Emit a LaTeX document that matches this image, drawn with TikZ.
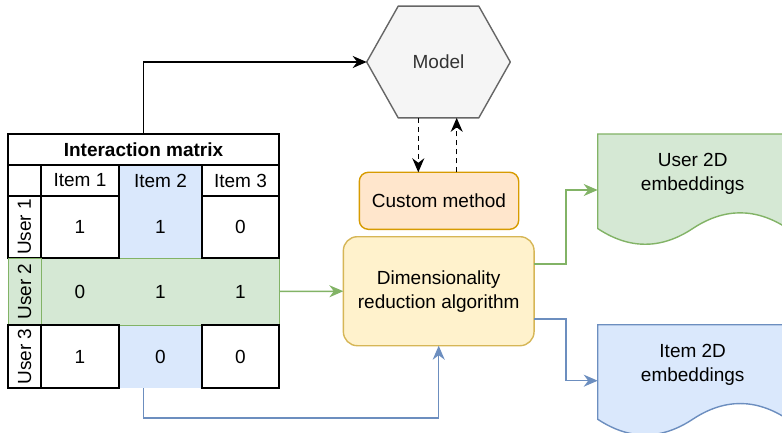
\documentclass[tikz,border=0pt]{standalone}
\usepackage{fontspec}
\setmainfont{Liberation Sans}
\usetikzlibrary{arrows.meta,backgrounds}
\definecolor{bluefill}{HTML}{DAE8FC}
\definecolor{blueline}{HTML}{6C8EBF}
\definecolor{greenfill}{HTML}{D5E8D4}
\definecolor{greenline}{HTML}{82B366}
\definecolor{orangefill}{HTML}{FFE6CC}
\definecolor{orangeline}{HTML}{D79B00}
\definecolor{yellowfill}{HTML}{FFF2CC}
\definecolor{yellowline}{HTML}{D6B656}
\definecolor{greyfill}{HTML}{F5F5F5}
\definecolor{greyline}{HTML}{666666}
\definecolor{greytext}{HTML}{333333}
\tikzset{
  basefont/.style={font=\fontsize{19}{24}\selectfont},
  txt/.style={basefont, inner sep=0pt, outer sep=0pt, align=center},
  frame/.style={inner sep=0pt, outer sep=0pt},
  cell/.style={frame, basefont, draw=black, fill=white, line width=1.4pt},
  box/.style={frame, basefont, align=center, line width=1.4pt},
  conn/.style={line width=1.5pt, -{Stealth[length=14pt,width=12pt,inset=4.5pt]}},
  docshape/.style={line width=1.4pt},
}
\begin{document}
\begin{tikzpicture}[x=1pt,y=-1pt]
\useasboundingbox (0,0) rectangle (782,433);
\clip (0,0) rectangle (782,433);

% ---- interaction matrix ----
\node[frame, minimum width=271pt, minimum height=254pt] (tbl) at (143.5,261) {};
% highlighted column (Item 2) and row (User 2)
\node[frame, fill=bluefill, minimum width=83pt, minimum height=223pt] (col2) at (160.5,276.5) {};
\node[frame, fill=greenfill, draw=greenline, line width=0.8pt,
      minimum width=271pt, minimum height=67pt] (row2) at (143.5,291.5) {};

\node[cell, font=\fontsize{19}{24}\selectfont\bfseries, minimum width=271pt, minimum height=31pt] (title) at (143.5,149.5) {Interaction matrix};
\node[cell, minimum width=33pt, minimum height=31pt] (corner) at (24.5,180.5) {};
\node[cell, minimum width=78pt, minimum height=31pt] (i1) at (80,180.5) {Item 1};
\node[txt] (i2) at (160.5,180.5) {Item 2};
\node[cell, minimum width=77pt, minimum height=31pt] (i3) at (240.5,180.5) {Item 3};

\node[cell, rotate=90, minimum width=62pt, minimum height=33pt] (u1) at (24.5,227) {User 1};
\node[cell, minimum width=78pt, minimum height=62pt] (c11) at (80,227) {1};
\node[txt] (c12) at (160.5,227) {1};
\node[cell, minimum width=77pt, minimum height=62pt] (c13) at (240.5,227) {0};

\node[frame, basefont, rotate=90, draw=greenline, line width=0.8pt, minimum width=67pt, minimum height=33pt] (u2) at (24.5,291.5) {User 2};
\node[txt] (c21) at (80,291.5) {0};
\node[txt] (c22) at (160.5,291.5) {1};
\node[txt] (c23) at (240.5,291.5) {1};

\node[cell, rotate=90, minimum width=63pt, minimum height=33pt] (u3) at (24.5,356.5) {User 3};
\node[cell, minimum width=78pt, minimum height=63pt] (c31) at (80,356.5) {1};
\node[txt] (c32) at (160.5,356.5) {0};
\node[cell, minimum width=77pt, minimum height=63pt] (c33) at (240.5,356.5) {0};

% ---- model (hexagon) ----
\node[frame, basefont, text=greytext, minimum width=143.6pt, minimum height=111.7pt] (model) at (438.5,62) {Model};
\begin{scope}[on background layer]
  \draw[fill=greyfill, draw=greyline, line width=1.4pt, line join=round]
    (model.west) -- ([xshift=-40.3pt]model.north) -- ([xshift=40.3pt]model.north)
    -- (model.east) -- ([xshift=40.3pt]model.south) -- ([xshift=-40.3pt]model.south) -- cycle;
\end{scope}

% ---- processing boxes ----
\node[box, fill=orangefill, draw=orangeline, rounded corners=9pt,
      minimum width=159.4pt, minimum height=57pt] (custom) at (439,200.8) {Custom method};
\node[box, fill=yellowfill, draw=yellowline, rounded corners=14pt,
      minimum width=190.7pt, minimum height=109pt] (dim) at (438.7,291.2) {Dimensionality\\reduction algorithm};

% ---- output documents ----
\node[frame, minimum width=190pt, minimum height=112pt] (userdoc) at (692.7,190) {};
\node[frame, minimum width=190pt, minimum height=112pt] (itemdoc) at (692.7,380.7) {};
\begin{scope}[shift={(userdoc.north west)}]
  \draw[docshape, fill=greenfill, draw=greenline]
    (0,0) -- (190,0) -- (190,94.55)
    .. controls (158.3,73.6) and (126.7,73.6) .. (95,94.55)
    .. controls (63.3,115.5) and (31.7,115.5) .. (0,94.55) -- cycle;
\end{scope}
\begin{scope}[shift={(itemdoc.north west)}]
  \draw[docshape, fill=bluefill, draw=blueline]
    (0,0) -- (190,0) -- (190,94.55)
    .. controls (158.3,73.6) and (126.7,73.6) .. (95,94.55)
    .. controls (63.3,115.5) and (31.7,115.5) .. (0,94.55) -- cycle;
\end{scope}
\node[txt] (usertxt) at ([yshift=16pt]userdoc.center) {User 2D\\embeddings};
\node[txt] (itemtxt) at ([yshift=16pt]itemdoc.center) {Item 2D\\embeddings};

% ---- connectors ----
\draw[conn] (title.north) |- (model.west);
\draw[conn, dash pattern=on 5pt off 4pt] ([xshift=-20.2pt]model.south) -- ([xshift=-20.2pt]model.south |- custom.north);
\draw[conn, dash pattern=on 5pt off 4pt] ([xshift=18.2pt]model.south |- custom.north) -- ([xshift=18.2pt]model.south);
\draw[conn, color=greenline] (row2.east) -- (dim.west);
\draw[conn, color=blueline] (tbl.south) -- ++(0,30) -| (dim.south);
\draw[conn, color=greenline] ([yshift=27pt]dim.east) -- ++(31.7,0) |- (userdoc.west);
\draw[conn, color=blueline] ([yshift=-28pt]dim.east) -- ++(31.7,0) |- (itemdoc.west);
\end{tikzpicture}
\end{document}
